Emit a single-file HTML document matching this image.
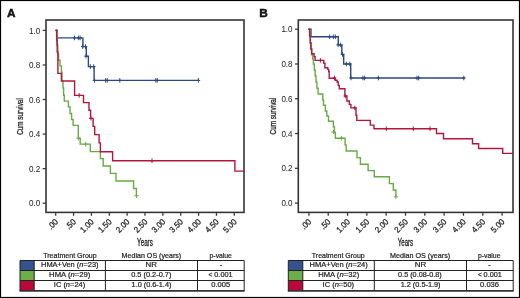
<!DOCTYPE html>
<html><head><meta charset="utf-8"><style>
html,body{margin:0;padding:0;background:#fff;width:520px;height:298px;overflow:hidden}
svg{display:block;will-change:transform}
text{font-family:"Liberation Sans", sans-serif;fill:#1a1a1a}
</style></head><body>
<svg width="520" height="298" viewBox="0 0 520 298">
<rect x="0.5" y="0.5" width="519" height="297" fill="none" stroke="#000" stroke-width="1.2"/><rect x="46" y="20" width="198" height="192.4" fill="none" stroke="#353535" stroke-width="1.6"/><path d="M42.70 203.20 H46" stroke="#353535" stroke-width="1.25"/><text transform="translate(40.3 206.30) scale(0.95 1)" text-anchor="end" font-size="8.5">0.0</text><path d="M42.70 168.64 H46" stroke="#353535" stroke-width="1.25"/><text transform="translate(40.3 171.74) scale(0.95 1)" text-anchor="end" font-size="8.5">0.2</text><path d="M42.70 134.08 H46" stroke="#353535" stroke-width="1.25"/><text transform="translate(40.3 137.18) scale(0.95 1)" text-anchor="end" font-size="8.5">0.4</text><path d="M42.70 99.52 H46" stroke="#353535" stroke-width="1.25"/><text transform="translate(40.3 102.62) scale(0.95 1)" text-anchor="end" font-size="8.5">0.6</text><path d="M42.70 64.96 H46" stroke="#353535" stroke-width="1.25"/><text transform="translate(40.3 68.06) scale(0.95 1)" text-anchor="end" font-size="8.5">0.8</text><path d="M42.70 30.40 H46" stroke="#353535" stroke-width="1.25"/><text transform="translate(40.3 33.50) scale(0.95 1)" text-anchor="end" font-size="8.5">1.0</text><path d="M55.70 212.4 V215.8" stroke="#353535" stroke-width="1.25"/><text transform="translate(58.70 222.3) rotate(-45) scale(0.93 1)" text-anchor="end" font-size="8.5" stroke="#1a1a1a" stroke-width="0.25">.00</text><path d="M73.56 212.4 V215.8" stroke="#353535" stroke-width="1.25"/><text transform="translate(76.56 222.3) rotate(-45) scale(0.93 1)" text-anchor="end" font-size="8.5" stroke="#1a1a1a" stroke-width="0.25">.50</text><path d="M91.42 212.4 V215.8" stroke="#353535" stroke-width="1.25"/><text transform="translate(94.42 222.3) rotate(-45) scale(0.93 1)" text-anchor="end" font-size="8.5" stroke="#1a1a1a" stroke-width="0.25">1.00</text><path d="M109.28 212.4 V215.8" stroke="#353535" stroke-width="1.25"/><text transform="translate(112.28 222.3) rotate(-45) scale(0.93 1)" text-anchor="end" font-size="8.5" stroke="#1a1a1a" stroke-width="0.25">1.50</text><path d="M127.14 212.4 V215.8" stroke="#353535" stroke-width="1.25"/><text transform="translate(130.14 222.3) rotate(-45) scale(0.93 1)" text-anchor="end" font-size="8.5" stroke="#1a1a1a" stroke-width="0.25">2.00</text><path d="M145.00 212.4 V215.8" stroke="#353535" stroke-width="1.25"/><text transform="translate(148.00 222.3) rotate(-45) scale(0.93 1)" text-anchor="end" font-size="8.5" stroke="#1a1a1a" stroke-width="0.25">2.50</text><path d="M162.86 212.4 V215.8" stroke="#353535" stroke-width="1.25"/><text transform="translate(165.86 222.3) rotate(-45) scale(0.93 1)" text-anchor="end" font-size="8.5" stroke="#1a1a1a" stroke-width="0.25">3.00</text><path d="M180.72 212.4 V215.8" stroke="#353535" stroke-width="1.25"/><text transform="translate(183.72 222.3) rotate(-45) scale(0.93 1)" text-anchor="end" font-size="8.5" stroke="#1a1a1a" stroke-width="0.25">3.50</text><path d="M198.58 212.4 V215.8" stroke="#353535" stroke-width="1.25"/><text transform="translate(201.58 222.3) rotate(-45) scale(0.93 1)" text-anchor="end" font-size="8.5" stroke="#1a1a1a" stroke-width="0.25">4.00</text><path d="M216.44 212.4 V215.8" stroke="#353535" stroke-width="1.25"/><text transform="translate(219.44 222.3) rotate(-45) scale(0.93 1)" text-anchor="end" font-size="8.5" stroke="#1a1a1a" stroke-width="0.25">4.50</text><path d="M234.30 212.4 V215.8" stroke="#353535" stroke-width="1.25"/><text transform="translate(237.30 222.3) rotate(-45) scale(0.93 1)" text-anchor="end" font-size="8.5" stroke="#1a1a1a" stroke-width="0.25">5.00</text><rect x="298.3" y="20" width="214.7" height="192.4" fill="none" stroke="#353535" stroke-width="1.6"/><path d="M295.00 203.10 H298.3" stroke="#353535" stroke-width="1.25"/><text transform="translate(292.6 206.20) scale(0.95 1)" text-anchor="end" font-size="8.5">0.0</text><path d="M295.00 168.32 H298.3" stroke="#353535" stroke-width="1.25"/><text transform="translate(292.6 171.42) scale(0.95 1)" text-anchor="end" font-size="8.5">0.2</text><path d="M295.00 133.54 H298.3" stroke="#353535" stroke-width="1.25"/><text transform="translate(292.6 136.64) scale(0.95 1)" text-anchor="end" font-size="8.5">0.4</text><path d="M295.00 98.76 H298.3" stroke="#353535" stroke-width="1.25"/><text transform="translate(292.6 101.86) scale(0.95 1)" text-anchor="end" font-size="8.5">0.6</text><path d="M295.00 63.98 H298.3" stroke="#353535" stroke-width="1.25"/><text transform="translate(292.6 67.08) scale(0.95 1)" text-anchor="end" font-size="8.5">0.8</text><path d="M295.00 29.20 H298.3" stroke="#353535" stroke-width="1.25"/><text transform="translate(292.6 32.30) scale(0.95 1)" text-anchor="end" font-size="8.5">1.0</text><path d="M308.90 212.4 V215.8" stroke="#353535" stroke-width="1.25"/><text transform="translate(311.90 222.3) rotate(-45) scale(0.93 1)" text-anchor="end" font-size="8.5" stroke="#1a1a1a" stroke-width="0.25">.00</text><path d="M328.22 212.4 V215.8" stroke="#353535" stroke-width="1.25"/><text transform="translate(331.22 222.3) rotate(-45) scale(0.93 1)" text-anchor="end" font-size="8.5" stroke="#1a1a1a" stroke-width="0.25">.50</text><path d="M347.54 212.4 V215.8" stroke="#353535" stroke-width="1.25"/><text transform="translate(350.54 222.3) rotate(-45) scale(0.93 1)" text-anchor="end" font-size="8.5" stroke="#1a1a1a" stroke-width="0.25">1.00</text><path d="M366.86 212.4 V215.8" stroke="#353535" stroke-width="1.25"/><text transform="translate(369.86 222.3) rotate(-45) scale(0.93 1)" text-anchor="end" font-size="8.5" stroke="#1a1a1a" stroke-width="0.25">1.50</text><path d="M386.18 212.4 V215.8" stroke="#353535" stroke-width="1.25"/><text transform="translate(389.18 222.3) rotate(-45) scale(0.93 1)" text-anchor="end" font-size="8.5" stroke="#1a1a1a" stroke-width="0.25">2.00</text><path d="M405.50 212.4 V215.8" stroke="#353535" stroke-width="1.25"/><text transform="translate(408.50 222.3) rotate(-45) scale(0.93 1)" text-anchor="end" font-size="8.5" stroke="#1a1a1a" stroke-width="0.25">2.50</text><path d="M424.82 212.4 V215.8" stroke="#353535" stroke-width="1.25"/><text transform="translate(427.82 222.3) rotate(-45) scale(0.93 1)" text-anchor="end" font-size="8.5" stroke="#1a1a1a" stroke-width="0.25">3.00</text><path d="M444.14 212.4 V215.8" stroke="#353535" stroke-width="1.25"/><text transform="translate(447.14 222.3) rotate(-45) scale(0.93 1)" text-anchor="end" font-size="8.5" stroke="#1a1a1a" stroke-width="0.25">3.50</text><path d="M463.46 212.4 V215.8" stroke="#353535" stroke-width="1.25"/><text transform="translate(466.46 222.3) rotate(-45) scale(0.93 1)" text-anchor="end" font-size="8.5" stroke="#1a1a1a" stroke-width="0.25">4.00</text><path d="M482.78 212.4 V215.8" stroke="#353535" stroke-width="1.25"/><text transform="translate(485.78 222.3) rotate(-45) scale(0.93 1)" text-anchor="end" font-size="8.5" stroke="#1a1a1a" stroke-width="0.25">4.50</text><path d="M502.10 212.4 V215.8" stroke="#353535" stroke-width="1.25"/><text transform="translate(505.10 222.3) rotate(-45) scale(0.93 1)" text-anchor="end" font-size="8.5" stroke="#1a1a1a" stroke-width="0.25">5.00</text><text x="7.1" y="16.6" font-size="11.8" font-weight="bold" stroke="#000" stroke-width="0.45" fill="#000">A</text><text x="259.3" y="16.6" font-size="11.8" font-weight="bold" stroke="#000" stroke-width="0.45" fill="#000">B</text><text x="137.1" y="245.5" font-size="10" stroke="#1a1a1a" stroke-width="0.3" textLength="15.7" lengthAdjust="spacingAndGlyphs">Years</text><text x="397.7" y="245.5" font-size="10" stroke="#1a1a1a" stroke-width="0.3" textLength="15.5" lengthAdjust="spacingAndGlyphs">Years</text><text transform="translate(23.3 134.8) rotate(-90)" font-size="9.7" stroke="#1a1a1a" stroke-width="0.3" textLength="36.6" lengthAdjust="spacingAndGlyphs">Cum survival</text><text transform="translate(275.6 134.4) rotate(-90)" font-size="9.7" stroke="#1a1a1a" stroke-width="0.3" textLength="36.7" lengthAdjust="spacingAndGlyphs">Cum survival</text><path d="M55.70 30.40 H56.60 V37.90 H82.90 V46.60 H86.30 V56.20 H88.40 V66.60 H94.10 V80.40 H198.80" fill="none" stroke="#2b4882" stroke-width="1.4"/><path d="M74.50 35.60 V40.20 M72.70 37.90 H76.30 M78.40 35.60 V40.20 M76.60 37.90 H80.20 M80.10 35.60 V40.20 M78.30 37.90 H81.90 M82.70 44.30 V48.90 M80.90 46.60 H84.50 M85.50 44.30 V48.90 M83.70 46.60 H87.30 M86.00 53.90 V58.50 M84.20 56.20 H87.80 M90.40 64.30 V68.90 M88.60 66.60 H92.20 M93.70 64.30 V68.90 M91.90 66.60 H95.50 M94.50 78.10 V82.70 M92.70 80.40 H96.30 M105.60 78.10 V82.70 M103.80 80.40 H107.40 M107.30 78.10 V82.70 M105.50 80.40 H109.10 M119.80 78.10 V82.70 M118.00 80.40 H121.60 M155.80 78.10 V82.70 M154.00 80.40 H157.60 M157.30 78.10 V82.70 M155.50 80.40 H159.10 M198.40 78.10 V82.70 M196.60 80.40 H200.20 " fill="none" stroke="#2b4882" stroke-width="1"/><path d="M55.70 30.40 H56.90 V45.00 H57.80 V54.00 H58.60 V60.30 H60.00 V65.90 H61.40 V72.00 H62.00 V81.00 H63.00 V88.00 H63.60 V95.20 H64.30 V101.10 H68.40 V106.90 H70.10 V113.50 H71.60 V119.50 H73.10 V125.40 H78.30 V138.20 H80.20 V144.10 H90.30 V151.60 H100.40 V158.60 H103.20 V166.00 H110.40 V173.40 H116.00 V181.00 H133.60 V188.50 H136.40 V195.80" fill="none" stroke="#68aa45" stroke-width="1.4"/><path d="M85.70 141.80 V146.40 M83.90 144.10 H87.50 M76.30 138.20 H80.50 M78.40 136.10 V140.30 M134.40 195.80 H138.60 M136.50 193.70 V197.90 " fill="none" stroke="#68aa45" stroke-width="1"/><path d="M55.30 30.20 H56.80 V40.00 H57.20 V52.00 H57.90 V73.40 H61.40 V81.00 H74.60 V95.40 H83.50 V102.60 H89.00 V110.30 H90.60 V118.40 H93.10 V126.40 H94.70 V134.60 H99.10 V142.90 H100.40 V151.80 H112.60 V160.70 H234.90 V171.10 H244.00" fill="none" stroke="#b3153f" stroke-width="1.4"/><path d="M79.20 93.10 V97.70 M77.40 95.40 H81.00 M152.00 158.40 V163.00 M150.20 160.70 H153.80 M88.90 118.40 H93.10 M91.00 116.30 V120.50 " fill="none" stroke="#b3153f" stroke-width="1"/><path d="M308.60 29.20 H311.00 V36.80 H338.30 V44.90 H341.80 V54.40 H343.70 V64.00 H350.70 V78.00 H465.00" fill="none" stroke="#2b4882" stroke-width="1.4"/><path d="M329.70 34.50 V39.10 M327.90 36.80 H331.50 M333.30 34.50 V39.10 M331.50 36.80 H335.10 M335.30 34.50 V39.10 M333.50 36.80 H337.10 M338.10 42.60 V47.20 M336.30 44.90 H339.90 M340.60 42.60 V47.20 M338.80 44.90 H342.40 M342.50 52.10 V56.70 M340.70 54.40 H344.30 M346.40 61.70 V66.30 M344.60 64.00 H348.20 M349.80 61.70 V66.30 M348.00 64.00 H351.60 M351.00 75.70 V80.30 M349.20 78.00 H352.80 M362.90 75.70 V80.30 M361.10 78.00 H364.70 M364.60 75.70 V80.30 M362.80 78.00 H366.40 M378.40 75.70 V80.30 M376.60 78.00 H380.20 M417.00 75.70 V80.30 M415.20 78.00 H418.80 M418.70 75.70 V80.30 M416.90 78.00 H420.50 M463.80 75.70 V80.30 M462.00 78.00 H465.60 " fill="none" stroke="#2b4882" stroke-width="1"/><path d="M308.60 29.20 H309.80 V36.00 H310.40 V43.00 H311.10 V49.00 H311.80 V54.70 H312.60 V59.00 H313.40 V64.00 H314.30 V70.00 H315.20 V76.00 H316.00 V82.00 H316.90 V88.30 H318.10 V94.00 H322.80 V100.00 H323.50 V105.20 H325.40 V111.00 H326.80 V116.00 H328.50 V121.20 H333.40 V126.70 H334.40 V132.60 H335.40 V138.20 H345.10 V144.90 H346.20 V151.00 H357.00 V157.60 H360.40 V164.30 H368.10 V170.60 H374.30 V176.80 H389.40 V183.60 H393.30 V190.00 H395.90 V196.80" fill="none" stroke="#68aa45" stroke-width="1.4"/><path d="M341.40 135.90 V140.50 M339.60 138.20 H343.20 M331.30 132.00 H335.50 M333.40 129.90 V134.10 M393.80 196.80 H398.00 M395.90 194.70 V198.90 " fill="none" stroke="#68aa45" stroke-width="1"/><path d="M308.20 29.30 H309.60 V36.00 H310.20 V43.00 H310.90 V49.00 H311.60 V53.70 H314.10 V56.80 H315.10 V60.40 H323.80 V63.30 H324.90 V67.70 H327.80 V69.40 H328.70 V71.50 H329.20 V78.30 H335.20 V80.20 H337.10 V82.00 H338.20 V85.40 H339.30 V88.80 H344.90 V96.00 H346.90 V101.00 H349.30 V104.40 H350.90 V107.90 H356.00 V115.20 H356.80 V120.40 H370.30 V125.10 H374.00 V128.70 H436.50 V133.50 H443.50 V138.80 H472.50 V143.80 H478.60 V148.50 H502.70 V153.40 H513.00" fill="none" stroke="#b3153f" stroke-width="1.4"/><path d="M320.40 58.10 V62.70 M318.60 60.40 H322.20 M334.50 75.60 V80.20 M332.70 77.90 H336.30 M345.30 93.70 V98.30 M343.50 96.00 H347.10 M354.80 105.60 V110.20 M353.00 107.90 H356.60 M386.30 126.40 V131.00 M384.50 128.70 H388.10 M413.30 126.40 V131.00 M411.50 128.70 H415.10 M430.00 126.40 V131.00 M428.20 128.70 H431.80 " fill="none" stroke="#b3153f" stroke-width="1"/><rect x="20" y="260.5" width="14.200000000000003" height="10.0" fill="#33528e"/><rect x="20" y="270.5" width="14.200000000000003" height="10.0" fill="#6cae48"/><rect x="20" y="280.5" width="14.200000000000003" height="10.100000000000023" fill="#ba0838"/><path d="M20 260.5 H244.2" stroke="#222" stroke-width="1"/><path d="M20 270.5 H244.2" stroke="#222" stroke-width="1"/><path d="M20 280.5 H244.2" stroke="#222" stroke-width="1"/><path d="M19.5 290.85 H244.7" stroke="#333" stroke-width="1.6"/><path d="M20 260.5 V290.6" stroke="#222" stroke-width="1"/><path d="M34.2 260.5 V290.6" stroke="#222" stroke-width="1"/><path d="M105.4 260.5 V290.6" stroke="#222" stroke-width="1"/><path d="M197.5 260.5 V290.6" stroke="#222" stroke-width="1"/><path d="M244.2 260.5 V290.6" stroke="#222" stroke-width="1"/><text x="43.2" y="257.5" font-size="7.2" stroke="#1a1a1a" stroke-width="0.2" textLength="53.5" lengthAdjust="spacingAndGlyphs">Treatment Group</text><text x="121.6" y="257.5" font-size="7.2" stroke="#1a1a1a" stroke-width="0.2" textLength="59.6" lengthAdjust="spacingAndGlyphs">Median OS (years)</text><text x="209.6" y="257.5" font-size="7.2" stroke="#1a1a1a" stroke-width="0.2" textLength="22.3" lengthAdjust="spacingAndGlyphs">p-value</text><text x="41" y="267.40" font-size="7.4" stroke="#1a1a1a" stroke-width="0.2" textLength="57.6" lengthAdjust="spacingAndGlyphs">HMA+Ven (<tspan font-style="italic">n</tspan>=23)</text><text x="145.5" y="267.40" font-size="7.4" stroke="#1a1a1a" stroke-width="0.2" textLength="11.4" lengthAdjust="spacingAndGlyphs">NR</text><text x="219.8" y="267.40" font-size="7.4" stroke="#1a1a1a" stroke-width="0.2" textLength="2.5" lengthAdjust="spacingAndGlyphs">-</text><text x="49.1" y="277.40" font-size="7.4" stroke="#1a1a1a" stroke-width="0.2" textLength="41.3" lengthAdjust="spacingAndGlyphs">HMA (<tspan font-style="italic">n</tspan>=29)</text><text x="131.2" y="277.40" font-size="7.4" stroke="#1a1a1a" stroke-width="0.2" textLength="40.2" lengthAdjust="spacingAndGlyphs">0.5 (0.2-0.7)</text><text x="208.6" y="277.40" font-size="6.6" stroke="#1a1a1a" stroke-width="0.2" textLength="3.9" lengthAdjust="spacingAndGlyphs">&lt;</text><text x="214.3" y="277.40" font-size="7.4" stroke="#1a1a1a" stroke-width="0.2" textLength="18.3" lengthAdjust="spacingAndGlyphs">0.001</text><text x="53.8" y="287.40" font-size="7.4" stroke="#1a1a1a" stroke-width="0.2" textLength="31.5" lengthAdjust="spacingAndGlyphs">IC (<tspan font-style="italic">n</tspan>=24)</text><text x="131.6" y="287.40" font-size="7.4" stroke="#1a1a1a" stroke-width="0.2" textLength="39.8" lengthAdjust="spacingAndGlyphs">1.0 (0.6-1.4)</text><text x="211.3" y="287.40" font-size="7.4" stroke="#1a1a1a" stroke-width="0.2" textLength="18.9" lengthAdjust="spacingAndGlyphs">0.005</text><rect x="288.3" y="260.5" width="14.5" height="10.0" fill="#33528e"/><rect x="288.3" y="270.5" width="14.5" height="10.0" fill="#6cae48"/><rect x="288.3" y="280.5" width="14.5" height="10.100000000000023" fill="#ba0838"/><path d="M288.3 260.5 H513.2" stroke="#222" stroke-width="1"/><path d="M288.3 270.5 H513.2" stroke="#222" stroke-width="1"/><path d="M288.3 280.5 H513.2" stroke="#222" stroke-width="1"/><path d="M287.8 290.85 H513.7" stroke="#333" stroke-width="1.6"/><path d="M288.3 260.5 V290.6" stroke="#222" stroke-width="1"/><path d="M302.8 260.5 V290.6" stroke="#222" stroke-width="1"/><path d="M374.3 260.5 V290.6" stroke="#222" stroke-width="1"/><path d="M466.5 260.5 V290.6" stroke="#222" stroke-width="1"/><path d="M513.2 260.5 V290.6" stroke="#222" stroke-width="1"/><text x="311.8" y="257.5" font-size="7.2" stroke="#1a1a1a" stroke-width="0.2" textLength="52.9" lengthAdjust="spacingAndGlyphs">Treatment Group</text><text x="390" y="257.5" font-size="7.2" stroke="#1a1a1a" stroke-width="0.2" textLength="60.2" lengthAdjust="spacingAndGlyphs">Median OS (years)</text><text x="478" y="257.5" font-size="7.2" stroke="#1a1a1a" stroke-width="0.2" textLength="22.5" lengthAdjust="spacingAndGlyphs">p-value</text><text x="309.6" y="267.40" font-size="7.4" stroke="#1a1a1a" stroke-width="0.2" textLength="58.2" lengthAdjust="spacingAndGlyphs">HMA+Ven (<tspan font-style="italic">n</tspan>=24)</text><text x="414.7" y="267.40" font-size="7.4" stroke="#1a1a1a" stroke-width="0.2" textLength="11.6" lengthAdjust="spacingAndGlyphs">NR</text><text x="488.3" y="267.40" font-size="7.4" stroke="#1a1a1a" stroke-width="0.2" textLength="2.5" lengthAdjust="spacingAndGlyphs">-</text><text x="318.2" y="277.40" font-size="7.4" stroke="#1a1a1a" stroke-width="0.2" textLength="41" lengthAdjust="spacingAndGlyphs">HMA (<tspan font-style="italic">n</tspan>=32)</text><text x="398.1" y="277.40" font-size="7.4" stroke="#1a1a1a" stroke-width="0.2" textLength="43.6" lengthAdjust="spacingAndGlyphs">0.5 (0.08-0.8)</text><text x="477.9" y="277.40" font-size="6.6" stroke="#1a1a1a" stroke-width="0.2" textLength="3.9" lengthAdjust="spacingAndGlyphs">&lt;</text><text x="483.6" y="277.40" font-size="7.4" stroke="#1a1a1a" stroke-width="0.2" textLength="18.3" lengthAdjust="spacingAndGlyphs">0.001</text><text x="322.6" y="287.40" font-size="7.4" stroke="#1a1a1a" stroke-width="0.2" textLength="31.5" lengthAdjust="spacingAndGlyphs">IC (<tspan font-style="italic">n</tspan>=50)</text><text x="400.7" y="287.40" font-size="7.4" stroke="#1a1a1a" stroke-width="0.2" textLength="39.8" lengthAdjust="spacingAndGlyphs">1.2 (0.5-1.9)</text><text x="480.1" y="287.40" font-size="7.4" stroke="#1a1a1a" stroke-width="0.2" textLength="18.9" lengthAdjust="spacingAndGlyphs">0.036</text>
</svg></body></html>
